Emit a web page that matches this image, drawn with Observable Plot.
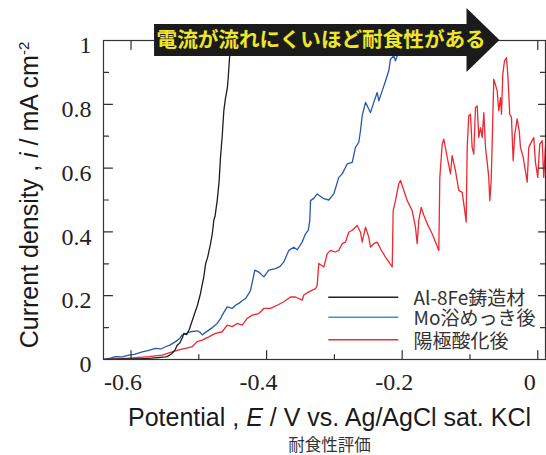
<!DOCTYPE html>
<html><head><meta charset="utf-8">
<script src="https://cdn.jsdelivr.net/npm/d3@7"></script>
<script src="https://cdn.jsdelivr.net/npm/@observablehq/plot@0.6"></script>
<style>body{margin:0;background:#fff}#chart{width:546px;height:455px;overflow:hidden}</style>
</head><body><div id="chart"></div>
<script>
// ---------- data ----------
const seriesNames = ["Al-8Fe鋳造材", "Mo浴めっき後", "陽極酸化後"];

const al8feE = [-0.640,-0.625,-0.610,-0.595,-0.580,-0.570,-0.560,-0.550,-0.5466,-0.540,-0.535,-0.532,-0.528,-0.524,-0.522,-0.518,-0.514,-0.510,-0.506,-0.502,-0.4975,-0.495,-0.4926,-0.490,-0.487,-0.4827,-0.480,-0.4779,-0.476,-0.4729,-0.470,-0.468,-0.4655,-0.4631,-0.4606,-0.458,-0.4566,-0.4547,-0.452,-0.450];
const al8feI = [0.000,0.001,0.002,0.002,0.003,0.004,0.006,0.008,0.009,0.018,0.030,0.045,0.052,0.070,0.082,0.078,0.095,0.120,0.145,0.170,0.207,0.235,0.259,0.300,0.320,0.363,0.395,0.436,0.450,0.498,0.560,0.634,0.700,0.780,0.820,0.850,0.884,0.946,1.000,1.030];

const moE = [-0.640,-0.630,-0.6229,-0.613,-0.6032,-0.595,-0.5835,-0.575,-0.5639,-0.556,-0.5491,-0.542,-0.5344,-0.528,-0.5245,-0.518,-0.5122,-0.5024,-0.498,-0.495,-0.490,-0.4853,-0.480,-0.4729,-0.468,-0.4655,-0.4581,-0.4507,-0.446,-0.441,-0.436,-0.4311,-0.4262,-0.4237,-0.4174,-0.4115,-0.4041,-0.3968,-0.3869,-0.380,-0.3746,-0.3673,-0.3599,-0.3549,-0.3475,-0.3426,-0.3386,-0.3363,-0.3352,-0.3304,-0.3254,-0.3156,-0.3083,-0.3009,-0.2935,-0.2885,-0.2811,-0.2737,-0.2689,-0.264,-0.2615,-0.259,-0.2541,-0.2493,-0.2468,-0.2419,-0.2369,-0.2345,-0.2295,-0.2246,-0.2198,-0.2173,-0.2124,-0.2099,-0.2074,-0.204,-0.202];
const moI = [0.000,0.004,0.009,0.008,0.014,0.016,0.024,0.028,0.035,0.033,0.040,0.046,0.056,0.066,0.077,0.082,0.087,0.090,0.085,0.077,0.085,0.092,0.100,0.113,0.128,0.139,0.165,0.160,0.170,0.176,0.184,0.191,0.207,0.217,0.280,0.274,0.259,0.280,0.285,0.292,0.306,0.342,0.352,0.344,0.368,0.394,0.405,0.436,0.498,0.505,0.519,0.504,0.500,0.519,0.571,0.582,0.613,0.618,0.665,0.681,0.717,0.764,0.806,0.785,0.774,0.806,0.837,0.811,0.842,0.873,0.905,0.941,0.952,0.936,0.952,1.000,1.020];

const anodE = [-0.640,-0.620,-0.6032,-0.5737,-0.554,-0.5392,-0.5295,-0.5196,-0.5097,-0.5024,-0.495,-0.4853,-0.4754,-0.4655,-0.4581,-0.4507,-0.4434,-0.436,-0.4286,-0.4212,-0.4115,-0.4041,-0.3942,-0.3844,-0.3746,-0.3648,-0.3574,-0.3475,-0.3451,-0.3378,-0.3279,-0.3254,-0.323,-0.3156,-0.3106,-0.3058,-0.2984,-0.2935,-0.2885,-0.2836,-0.2788,-0.2737,-0.2664,-0.2615,-0.259,-0.2541,-0.2493,-0.2468,-0.2419,-0.2369,-0.232,-0.2246,-0.2198,-0.2147,-0.2133,-0.2099,-0.205,-0.2025,-0.1976,-0.1926,-0.1853,-0.1804,-0.1779,-0.1755,-0.172,-0.1681,-0.1631,-0.1558,-0.1509,-0.146,-0.1445,-0.141,-0.1386,-0.1336,-0.1288,-0.1263,-0.1214,-0.1165,-0.1115,-0.1091,-0.1056,-0.1041,-0.1018,-0.0993,-0.0968,-0.0944,-0.0919,-0.0894,-0.087,-0.0845,-0.082,-0.0796,-0.0771,-0.0746,-0.0723,-0.0708,-0.0687,-0.0673,-0.0649,-0.0599,-0.0575,-0.055,-0.0535,-0.0516,-0.0491,-0.0462,-0.0442,-0.0413,-0.0388,-0.0363,-0.0339,-0.0304,-0.0274,-0.0255,-0.0215,-0.0192,-0.0156,-0.0133,-0.0083,-0.0059,-0.0034,0.0000,0.0029,0.0065,0.0088,0.0114];
const anodI = [0.000,0.002,0.004,0.009,0.014,0.024,0.030,0.035,0.040,0.056,0.061,0.071,0.082,0.087,0.108,0.103,0.113,0.108,0.129,0.139,0.144,0.160,0.160,0.170,0.181,0.196,0.196,0.186,0.202,0.212,0.222,0.233,0.301,0.290,0.332,0.342,0.337,0.342,0.363,0.368,0.399,0.405,0.420,0.399,0.368,0.415,0.384,0.352,0.363,0.368,0.347,0.321,0.306,0.290,0.467,0.498,0.551,0.561,0.530,0.498,0.467,0.415,0.363,0.436,0.477,0.452,0.426,0.394,0.368,0.342,0.571,0.675,0.691,0.634,0.582,0.639,0.592,0.530,0.524,0.488,0.431,0.665,0.764,0.769,0.665,0.644,0.790,0.795,0.696,0.727,0.696,0.774,0.665,0.618,0.571,0.498,0.561,0.675,0.879,0.842,0.780,0.821,0.769,0.894,0.936,0.946,0.894,0.769,0.759,0.623,0.707,0.754,0.717,0.665,0.634,0.603,0.556,0.665,0.686,0.696,0.618,0.571,0.675,0.686,0.571,0.670];

const xTicks = [-0.6, -0.4, -0.2, 0];
const xTickLabels = ["-0.6", "-0.4", "-0.2", "0"];
const xMinorTicks = [-0.5, -0.3, -0.1];
const yTicks = [0, 0.2, 0.4, 0.6, 0.8, 1];
const yTickLabels = ["0", "0.2", "0.4", "0.6", "0.8", "1"];
const yMinorTicks = [0.1, 0.3, 0.5, 0.7, 0.9];

const xTitle = "Potential , E / V vs. Ag/AgCl sat. KCl";
const yTitle = "Current density , i / mA cm-2";
const arrowText = "電流が流れにくいほど耐食性がある";
const captionText = "耐食性評価";

// ---------- layout / style ----------
const xDomain = [-0.6406, 0.0114];
const lineColors = ["#1d1d1d", "#2757ad", "#ec2830"];
const legendColors = ["#222222", "#3f8fd2", "#e53238"];
const legendLayout = {x1: -0.3083, x2: -0.2050, xText: -0.1833, y: [0.195, 0.1326, 0.0618]};
const arrowLayout = {x0: -0.5653, xHead: -0.1044, xTip: -0.0558, y: 1.0, body: 16, head: 32};
const serif = "'Liberation Serif', 'Times New Roman', 'DejaVu Serif', serif";
const sans = "'Liberation Sans', Arial, sans-serif";
const cjk = "'Noto Sans CJK JP', sans-serif";

const rows = [];
[[al8feE, al8feI], [moE, moI], [anodE, anodI]].forEach(([E, I], s) => {
  E.forEach((e, k) => rows.push({series: seriesNames[s], E: e, I: I[k]}));
});

const tickStyle = {stroke: "#333", strokeWidth: 1.2, r: 0, anchor: "start"};
const arrowMark = (index, scales) => {
  const x0 = scales.x(arrowLayout.x0), xh = scales.x(arrowLayout.xHead), xt = scales.x(arrowLayout.xTip), yc = scales.y(arrowLayout.y);
  const b = arrowLayout.body, h = arrowLayout.head;
  return d3.create("svg:path")
    .attr("d", `M${x0},${yc - b}H${xh}V${yc - h}L${xt},${yc}L${xh},${yc + h}V${yc + b}H${x0}Z`)
    .attr("fill", "#1b1b1b").node();
};

const chart = Plot.plot({
  width: 546, height: 455,
  marginLeft: 103, marginRight: 1, marginTop: 40, marginBottom: 96,
  style: {background: "#fff", overflow: "visible"},
  x: {domain: xDomain, axis: null},
  y: {domain: [0, 1], axis: null},
  color: {domain: seriesNames, range: lineColors},
  marks: [
    Plot.line(rows.filter(d => d.series === seriesNames[2]), {x: "E", y: "I", stroke: "series", strokeWidth: 1.3, clip: true}),
    Plot.line(rows.filter(d => d.series === seriesNames[1]), {x: "E", y: "I", stroke: "series", strokeWidth: 1.3, clip: true}),
    Plot.line(rows.filter(d => d.series === seriesNames[0]), {x: "E", y: "I", stroke: "series", strokeWidth: 1.3, clip: true}),
    Plot.frame({stroke: "#333", strokeWidth: 1.2}),
    // inward ticks
    Plot.vector(xTicks, {x: d => d, y: 0, length: 9, rotate: 0, ...tickStyle}),
    Plot.vector(xMinorTicks, {x: d => d, y: 0, length: 5, rotate: 0, ...tickStyle}),
    Plot.vector(xTicks, {x: d => d, y: 1, length: 9, rotate: 180, ...tickStyle}),
    Plot.vector(xMinorTicks, {x: d => d, y: 1, length: 5, rotate: 180, ...tickStyle}),
    Plot.vector(yTicks, {x: xDomain[0], y: d => d, length: 9, rotate: 90, ...tickStyle}),
    Plot.vector(yMinorTicks, {x: xDomain[0], y: d => d, length: 5, rotate: 90, ...tickStyle}),
    Plot.vector(yTicks, {x: xDomain[1], y: d => d, length: 7, rotate: -90, ...tickStyle}),
    Plot.vector(yMinorTicks, {x: xDomain[1], y: d => d, length: 5, rotate: -90, ...tickStyle}),
    // tick labels
    Plot.text(xTicks, {x: d => d, frameAnchor: "bottom", text: (d, i) => xTickLabels[i], textAnchor: "middle", lineAnchor: "top", dy: 13, dx: -8,
      fontFamily: serif, fontSize: 24, fill: "#222"}),
    Plot.text(yTicks, {y: d => d, frameAnchor: "left", text: (d, i) => yTickLabels[i], textAnchor: "end", lineAnchor: "middle", dx: -12, dy: 5,
      fontFamily: serif, fontSize: 24, fill: "#222"}),
    // axis titles and caption
    Plot.text([xTitle], {frameAnchor: "bottom", text: d => d, textAnchor: "middle", lineAnchor: "bottom", dy: 66, dx: 5,
      fontFamily: sans, fontSize: 25, fill: "#1a1a1a"}),
    Plot.text([yTitle], {frameAnchor: "left", text: d => d, textAnchor: "middle", lineAnchor: "bottom", rotate: -90, dx: -66, dy: -5,
      fontFamily: sans, fontSize: 25, fill: "#1a1a1a"}),
    Plot.text([captionText], {frameAnchor: "bottom", text: d => d, textAnchor: "middle", lineAnchor: "middle", dy: 86, dx: 5,
      fontFamily: cjk, fontSize: 16.5, fill: "#333"}),
    // legend
    Plot.ruleY(seriesNames, {y: (d, i) => legendLayout.y[i], x1: legendLayout.x1, x2: legendLayout.x2,
      stroke: (d, i) => legendColors[i], strokeWidth: 1.5}),
    Plot.text(seriesNames, {x: legendLayout.xText, y: (d, i) => legendLayout.y[i], text: d => d, textAnchor: "start", lineAnchor: "middle", dy: 2,
      fontFamily: cjk, fontSize: 19, fill: "#333"}),
    // arrow annotation
    arrowMark,
    Plot.text([arrowText], {x: arrowLayout.x0 + 0.003, y: arrowLayout.y, text: d => d, textAnchor: "start", lineAnchor: "middle",
      fontFamily: cjk, fontWeight: "bold", fontSize: 20.6, fill: "#ede62b"})
  ]
});

// rich text (italic variables, superscript)
function richify(plain, parts) {
  d3.select(chart).selectAll("text").filter(function () { return this.textContent === plain; }).each(function () {
    const t = d3.select(this);
    t.text(null);
    for (const p of parts) {
      const s = t.append("tspan").text(p.t);
      if (p.i) s.attr("font-style", "italic");
      if (p.sup) s.attr("font-size", 15).attr("dy", "-0.55em");
    }
  });
}
richify(xTitle, [{t: "Potential , "}, {t: "E", i: true}, {t: " / V vs. Ag/AgCl sat. KCl"}]);
richify(yTitle, [{t: "Current density , "}, {t: "i", i: true}, {t: " / mA cm"}, {t: "-2", sup: true}]);

document.getElementById("chart").appendChild(chart);
</script>
</body></html>
